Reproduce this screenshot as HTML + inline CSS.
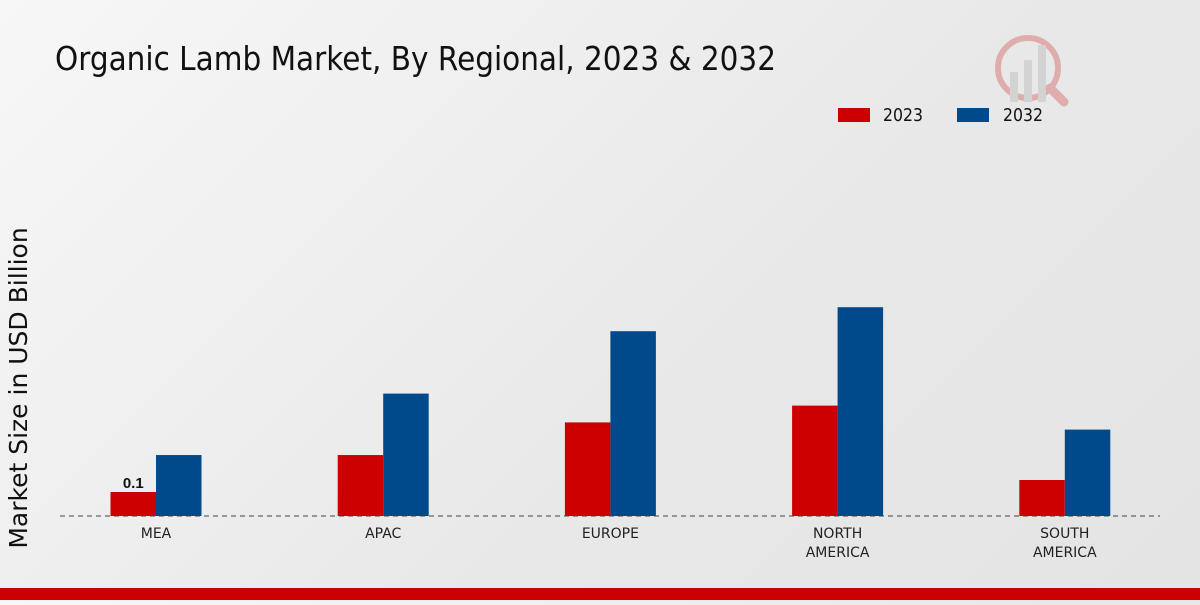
<!DOCTYPE html>
<html><head><meta charset="utf-8"><style>
html,body{margin:0;padding:0}
body{width:1200px;height:600px;overflow:hidden;background:linear-gradient(135deg,#f7f7f7 0%,#e8e8e8 60%,#e4e4e4 100%);font-family:"Liberation Sans","DejaVu Sans",sans-serif}
</style></head><body>
<svg id="chart" width="1200" height="600" xmlns="http://www.w3.org/2000/svg">
<text x="55" y="70" font-size="33" fill="#111" textLength="721" lengthAdjust="spacingAndGlyphs" font-family="DejaVu Sans, sans-serif">Organic Lamb Market, By Regional, 2023 &amp; 2032</text>
<g opacity="0.25">
<circle cx="1028" cy="68" r="30" fill="none" stroke="#c00" stroke-width="6"/>
<rect x="1010" y="72" width="8" height="30" fill="#999"/><rect x="1024" y="60" width="8" height="42" fill="#999"/><rect x="1038" y="45" width="8" height="57" fill="#999"/>
<line x1="1050" y1="88" x2="1064" y2="102" stroke="#c00" stroke-width="9" stroke-linecap="round"/>
</g>
<g>
<rect x="838" y="108" width="32" height="14" fill="#cc0000"/>
<text x="883" y="121" font-size="18" fill="#111" font-family="DejaVu Sans, sans-serif" textLength="40" lengthAdjust="spacingAndGlyphs">2023</text>
<rect x="957" y="108" width="32" height="14" fill="#004a8c"/>
<text x="1003" y="121" font-size="18" fill="#111" font-family="DejaVu Sans, sans-serif" textLength="40" lengthAdjust="spacingAndGlyphs">2032</text>
</g>
<text transform="translate(27,388) rotate(-90)" text-anchor="middle" font-size="25" fill="#111" font-family="DejaVu Sans, sans-serif">Market Size in USD Billion</text>
<line x1="60" y1="516" x2="1160" y2="516" stroke="#444" stroke-width="1" stroke-dasharray="5,4"/>
<g id="bars"></g>
<rect x="0" y="588" width="1200" height="12" fill="#cc0000"/>
</svg>
<script>
const categories = [["MEA"],["APAC"],["EUROPE"],["NORTH","AMERICA"],["SOUTH","AMERICA"]];
const values2023 = [0.1, 0.254, 0.39, 0.46, 0.15];
const values2032 = [0.254, 0.51, 0.77, 0.87, 0.36];
const baseY = 516, pxPerUnit = 240, x0 = 156, step = 227.2, bw = 45.5;
const yScale = v => baseY - v * pxPerUnit;
const xScale = i => x0 + i * step;
const g = document.getElementById('bars');
const NS = 'http://www.w3.org/2000/svg';
categories.forEach((cat, i) => {
  const cx = xScale(i);
  [[values2023, '#cc0000', -bw, '2023'], [values2032, '#004a8c', 0, '2032']].forEach(([arr, col, off, yr]) => {
    const r = document.createElementNS(NS, 'rect');
    r.setAttribute('x', cx + off);
    r.setAttribute('y', yScale(arr[i]));
    r.setAttribute('width', bw);
    r.setAttribute('height', baseY - yScale(arr[i]));
    r.setAttribute('fill', col);
    
    
    g.appendChild(r);
  });
  cat.forEach((line, j) => {
    const t = document.createElementNS(NS, 'text');
    t.setAttribute('x', cx);
    t.setAttribute('y', 538 + j * 19);
    t.setAttribute('text-anchor', 'middle');
    t.setAttribute('font-size', '14');
    t.setAttribute('fill', '#222');
    t.setAttribute('font-family', 'DejaVu Sans, sans-serif');
    t.textContent = line;
    
    
    g.appendChild(t);
  });
});
const lbl = document.createElementNS(NS, 'text');
lbl.setAttribute('x', xScale(0) - bw / 2);
lbl.setAttribute('y', yScale(values2023[0]) - 4);
lbl.setAttribute('text-anchor', 'middle');
lbl.setAttribute('font-size', '15');
lbl.setAttribute('font-weight', 'bold');
lbl.setAttribute('fill', '#111');
lbl.textContent = String(values2023[0]);


g.appendChild(lbl);
</script>
</body></html>
